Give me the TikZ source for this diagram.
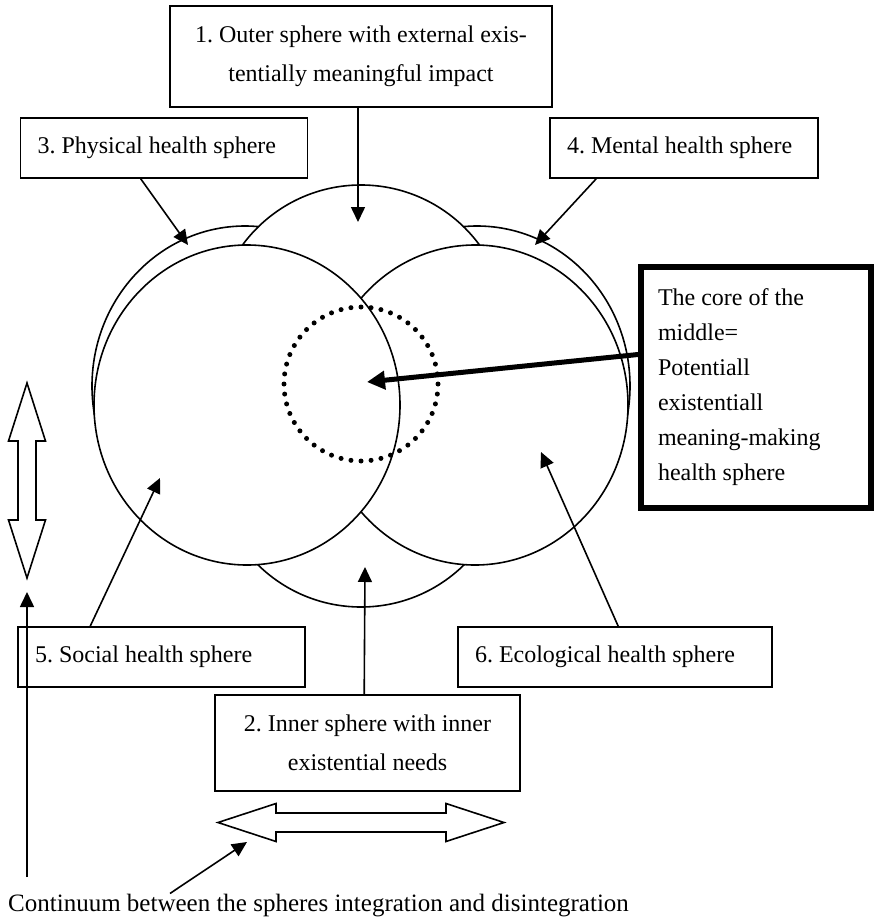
\documentclass[tikz,border=0pt]{standalone}
\usepackage{fontspec}
\setmainfont{Liberation Serif}
\usetikzlibrary{arrows.meta}
\begin{document}
\frenchspacing
\begin{tikzpicture}[x=1pt,y=-1pt,
  sph/.style={draw=black,fill=white,line width=1.6pt},
  lbl/.style={draw=black,line width=1.6pt,fill=white,inner xsep=17pt,inner ysep=0pt,
    font=\fontsize{24}{39}\selectfont\frenchspacing},
  arr/.style={line width=1.6pt,-{Triangle[length=15pt,width=14pt]}},
  dbl/.style={draw=black,fill=white,line width=1.6pt,line join=miter}]
\useasboundingbox (0,0) rectangle (875,918);
% spheres
\filldraw[sph] (245,386) ellipse [x radius=153pt, y radius=160pt];
\filldraw[sph] (477,386) ellipse [x radius=153pt, y radius=160pt];
\filldraw[sph] (361,332) circle [radius=147pt];
\filldraw[sph] (361,460) circle [radius=147pt];
\filldraw[sph] (475,405) ellipse [x radius=153pt, y radius=160pt];
\filldraw[sph] (247,405) ellipse [x radius=153pt, y radius=160pt];
% core dotted circle
\draw[line width=5pt,line cap=round,dash pattern=on 0pt off 10.08pt] (361,384) circle [radius=77pt];
% boxes
\node[lbl,align=center,minimum width=382pt,minimum height=101pt] (b1) at (361,56.5)
  {1. Outer sphere with external exis-\\tentially meaningful impact};
\node[lbl,align=flush left,text width=253pt,minimum height=60pt] (b3) at (164,148) {\mbox{3. Physical health sphere}};
\node[lbl,align=flush left,text width=234pt,minimum height=60pt] (b4) at (684,148) {\mbox{4. Mental health sphere}};
\node[lbl,align=flush left,text width=253pt,minimum height=60pt] (b5) at (161.5,657) {\mbox{5. Social health sphere}};
\node[lbl,align=flush left,text width=280pt,minimum height=60pt] (b6) at (615,657) {\mbox{6. Ecological health sphere}};
\node[lbl,align=center,minimum width=305pt,minimum height=96pt] (b2) at (367.5,743)
  {2. Inner sphere with inner\\existential needs};
\node[draw=black,line width=6pt,fill=white,inner xsep=17pt,inner ysep=0pt,align=flush left,
  text width=196pt,minimum height=241pt,font=\fontsize{24}{35}\selectfont] (core) at (756,387.5)
  {The core of the\\middle=\\Potentiall\\existentiall\\meaning-making\\health sphere};
% arrow tips
\coordinate (t1) at (358,222);
\coordinate (t3) at (188,245);
\coordinate (t4) at (535,245);
\coordinate (t5) at (160,478);
\coordinate (t6) at (541,452);
\coordinate (t2) at (365,567);
\coordinate (tc) at (367,382);
\draw[arr] ([xshift=-3pt]b1.south) -- (t1);
\draw[arr] ([xshift=121pt]b3.south west) -- (t3);
\draw[arr] ([xshift=47pt]b4.south west) -- (t4);
\draw[arr] ([xshift=73pt]b5.north west) -- (t5);
\draw[arr] ([xshift=161pt]b6.north west) -- (t6);
\draw[arr] ([xshift=150pt]b2.north west) -- (t2);
\draw[line width=5pt,-{Triangle[length=18pt,width=18pt]}] ([yshift=33pt]core.west) -- (tc);
% double arrows
\draw[dbl] (27,383) -- (45.5,441) -- (36,441) -- (36,520) -- (45.5,520) -- (27,578)
  -- (8.5,520) -- (18,520) -- (18,441) -- (8.5,441) -- cycle;
\draw[dbl] (218,822.5) -- (276,803.5) -- (276,813) -- (446,813) -- (446,803.5) -- (504,822.5)
  -- (446,841.5) -- (446,832) -- (276,832) -- (276,841.5) -- cycle;
% continuum
\node[inner sep=0pt,anchor=base west,font=\fontsize{25}{30}\selectfont] (cont) at (8,911)
  {Continuum between the spheres integration and disintegration};
\coordinate (ub) at (27,877);
\coordinate (ut) at (27,592);
\coordinate (tcont) at (247,842);
\draw[arr] (ub) -- (ut);
\draw[arr] ([xshift=162pt]cont.north west) -- (tcont);
\end{tikzpicture}
\end{document}
